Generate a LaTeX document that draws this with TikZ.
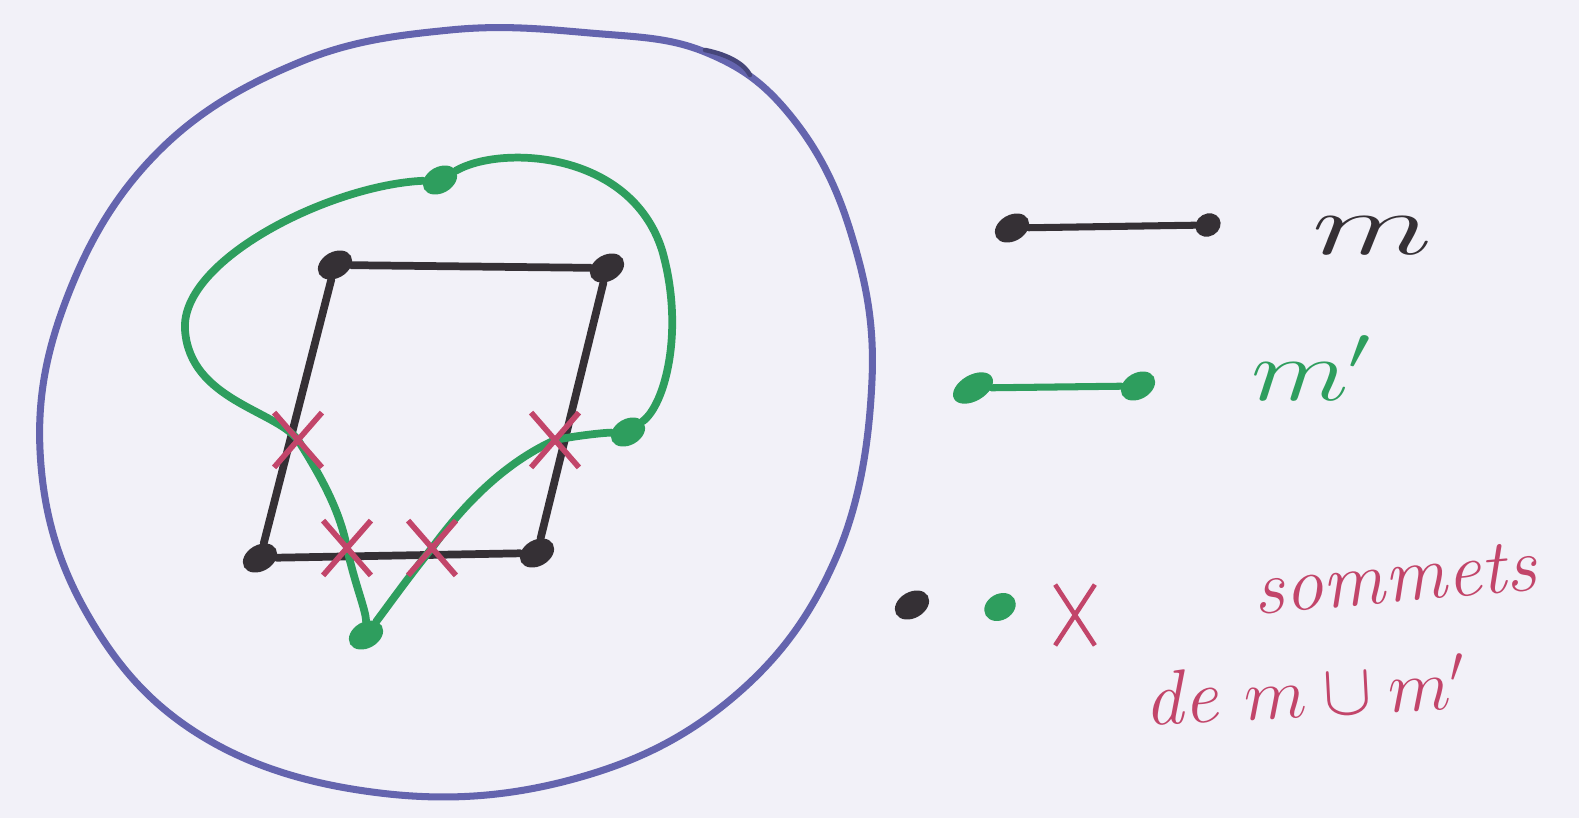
\documentclass[tikz,border=0pt]{standalone}
\usetikzlibrary{shapes.geometric,shapes.misc}
\definecolor{bg}{HTML}{F2F1F8}
\definecolor{pblue}{HTML}{6464AE}
\definecolor{pgreen}{HTML}{2E9E5E}
\definecolor{pblack}{HTML}{353035}
\definecolor{pred}{HTML}{C2456A}
\tikzset{
  bvert/.style={ellipse,fill=pblack,draw=pblack,minimum width=10pt,minimum height=7pt,inner sep=0pt,rotate=30},
  gvert/.style={ellipse,fill=pgreen,draw=pgreen,minimum width=10pt,minimum height=7pt,inner sep=0pt,rotate=30},
  rx/.style={cross out,draw=pred,line width=1.6pt,minimum width=12pt,minimum height=14pt,inner sep=0pt},
  bedge/.style={pblack,line width=2.2pt,line cap=round},
  gedge/.style={pgreen,line width=2.2pt,line cap=round},
  lbl/.style={font=\itshape\fontsize{22}{26}\selectfont,inner sep=0pt},
}
\begin{document}
\begin{tikzpicture}[x=0.01cm,y=-0.01cm]
\fill[bg] (0,0) rectangle (1579,818);
\useasboundingbox (0,0) rectangle (1579,818);
% blue outer curve
\draw[pblue,line width=2pt] plot[smooth cycle,tension=0.65] coordinates {
 (705,52) (590,33) (450,30) (300,62) (160,150) (70,290) (40,450) (85,610)
 (200,735) (380,793) (570,780) (730,700) (835,560) (872,380) (850,230) (790,115)};
\draw[pblue!70!black,line width=1.3pt,line cap=round] (705,50) .. controls (730,55) and (745,65) .. (750,75);
% black graph
\node[bvert] (tl) at (335,265) {};
\node[bvert] (tr) at (607,268) {};
\node[bvert] (br) at (537,553) {};
\node[bvert] (bl) at (260,558) {};
\draw[bedge] (tl) -- (tr);
\draw[bedge] (tr) -- (br);
\draw[bedge] (br) -- (bl);
\draw[bedge] (bl) -- (tl);
% green graph
\node[gvert] (gt) at (440,180) {};
\node[gvert] (gr) at (628,432) {};
\node[gvert] (gb) at (366,635) {};
\coordinate (x1) at (298,440);
\coordinate (x2) at (347,548);
\coordinate (x3) at (432,548);
\coordinate (x4) at (555,440);
\draw[gedge] (gt) .. controls (330,185) and (180,260) .. (185,330)
  .. controls (190,400) and (275,410) .. (x1)
  .. controls (320,475) and (340,510) .. (x2)
  .. controls (355,585) and (366,610) .. (gb);
\draw[gedge] (gt) .. controls (500,145) and (630,150) .. (662,250)
  .. controls (685,330) and (665,405) .. (gr);
\draw[gedge] (gr) .. controls (600,433) and (575,436) .. (x4)
  .. controls (500,465) and (460,510) .. (x3)
  .. controls (410,575) and (385,610) .. (gb);
% crossings
\node[rx] (c1) at (x1) {};
\node[rx] (c2) at (x2) {};
\node[rx] (c3) at (x3) {};
\node[rx] (c4) at (x4) {};
% legend
\node[bvert] (lb1) at (1012,228) {};
\node[bvert,minimum width=7pt,minimum height=6pt] (lb2) at (1208,225) {};
\draw[bedge,line width=2pt] (lb1) -- (lb2);
\node[lbl,text=pblack,xscale=1.6,font=\itshape\fontsize{24}{28}\selectfont] (lm) at (1372,236) {$m$};
\node[gvert,minimum width=12pt] (lg1) at (973,388) {};
\node[gvert] (lg2) at (1138,386) {};
\draw[gedge,line width=2pt] (lg1) -- (lg2);
\node[lbl,text=pgreen,xscale=1.3,font=\itshape\fontsize{24}{28}\selectfont] (lmp) at (1312,368) {$m'$};
\node[bvert] (db) at (912,605) {};
\node[gvert,minimum width=9pt] (dg) at (1000,607) {};
\node[rx,minimum width=10pt,minimum height=16pt,line width=1.3pt] (dr) at (1075,615) {};
\node[lbl,text=pred,rotate=5] (s1) at (1395,578) {sommets};
\node[lbl,text=pred,rotate=3] (s2) at (1305,690) {de $m\cup m'$};
\end{tikzpicture}
\end{document}
